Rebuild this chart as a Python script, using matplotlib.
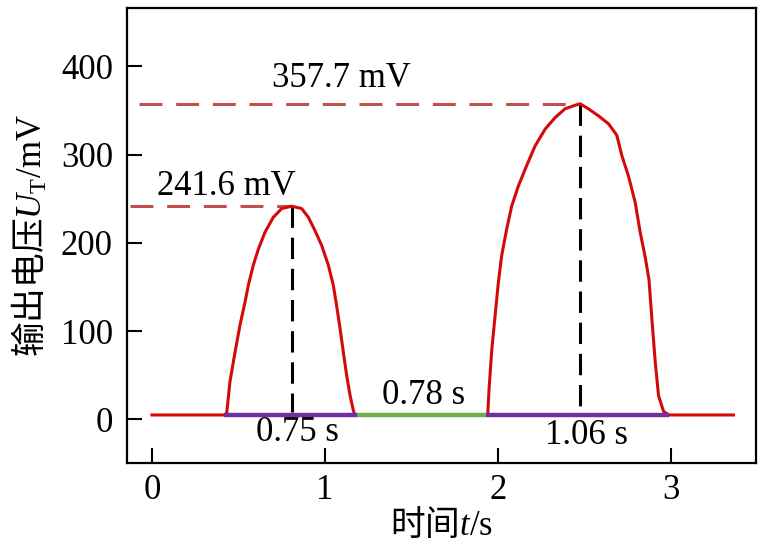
import matplotlib
matplotlib.use("Agg")
import matplotlib.pyplot as plt

plt.rcParams['font.family'] = ['Liberation Serif', 'Noto Sans CJK SC']
plt.rcParams['mathtext.fontset'] = 'custom'
plt.rcParams['mathtext.rm'] = 'Liberation Serif'
plt.rcParams['mathtext.it'] = 'Liberation Serif:italic'
plt.rcParams['mathtext.sf'] = 'Noto Sans CJK SC'   # used only for the Chinese part of labels

# output voltage trace (t in s, U in mV)
trace_t = [0.0, 0.42, 0.432, 0.451, 0.480, 0.509, 0.538, 0.557, 0.586, 0.615, 0.653,
           0.701, 0.750, 0.807, 0.865, 0.904, 0.942, 0.981, 1.019, 1.048, 1.067,
           1.087, 1.106, 1.125, 1.145, 1.164, 1.173,
           1.940, 1.948, 1.964, 1.983, 2.002, 2.021, 2.050, 2.079, 2.118, 2.166,
           2.214, 2.272, 2.329, 2.387, 2.445, 2.474, 2.522, 2.580, 2.638, 2.686,
           2.715, 2.753, 2.792, 2.821, 2.850, 2.872, 2.890, 2.908, 2.927, 2.956,
           2.985, 3.36]
trace_v = [5, 5, 7, 43, 76, 107, 133, 152, 175, 193, 212,
           229, 239, 241.6, 239, 229, 214, 197, 175, 152, 129,
           103, 76, 50, 27, 10, 5,
           5, 35, 80, 118, 156, 186, 216, 242, 265, 288,
           310, 329, 342, 352, 356, 357.7, 352, 344, 335, 322,
           299, 276, 246, 212, 184, 158, 110, 65, 27, 9,
           5, 5]

peak_t = [0.807, 2.474]
peak_v = [241.6, 357.7]
peak_labels = ['241.6 mV', '357.7 mV']
hline_start = [-0.127, -0.075]

# pulse / gap segments on the baseline
seg_start = [0.416, 1.183, 1.93]
seg_end = [1.183, 1.93, 2.985]
seg_colors = ['#7030a0', '#70b04c', '#7030a0']
seg_labels = ['0.75 s', '0.78 s', '1.06 s']
seg_label_x = [0.84, 1.57, 2.51]
seg_label_y = [-15, 27, -18]
baseline = 5

fs = 25

fig = plt.figure(figsize=(7.64, 5.48), dpi=100)
ax = fig.add_axes([0.166, 0.155, 0.8235, 0.83])

ax.plot(trace_t, trace_v, color='#d40a0a', lw=2.2, zorder=3)

for s, e, c in zip(seg_start, seg_end, seg_colors):
    ax.plot([s, e], [baseline, baseline], color=c, lw=3.2, solid_capstyle='butt', zorder=4)

for pt, pv, x0 in zip(peak_t, peak_v, hline_start):
    ax.plot([x0, pt], [pv, pv], color='#c0504d', lw=2.2, dashes=(7.5, 4.5), zorder=2)
    ax.plot([pt, pt], [pv, 8], color='black', lw=2.2, dashes=(7, 3.2), zorder=2)

ax.text(0.43, 264, peak_labels[0], fontsize=fs, ha='center', va='center')
ax.text(1.093, 386, peak_labels[1], fontsize=fs, ha='center', va='center')
for x, y, lab in zip(seg_label_x, seg_label_y, seg_labels):
    ax.text(x, y, lab, fontsize=fs, ha='center', va='center')

ax.set_xlim(-0.145, 3.49)
ax.set_ylim(-49.5, 466)
ax.set_xticks([0, 1, 2, 3])
ax.set_yticks([0, 100, 200, 300, 400])
ax.tick_params(direction='in', length=11, width=1.5, labelsize=fs, pad=8,
               top=False, right=False)
ax.tick_params(axis='y', pad=10)
for sp in ax.spines.values():
    sp.set_linewidth(1.6)

ax.set_xlabel(r'$\mathsf{时间}t$/s', fontsize=fs, labelpad=0)
ax.set_ylabel(r'$\mathsf{输出电压}U_\mathrm{T}$/mV', fontsize=fs, labelpad=8)

fig.savefig('out.png', dpi=100)
